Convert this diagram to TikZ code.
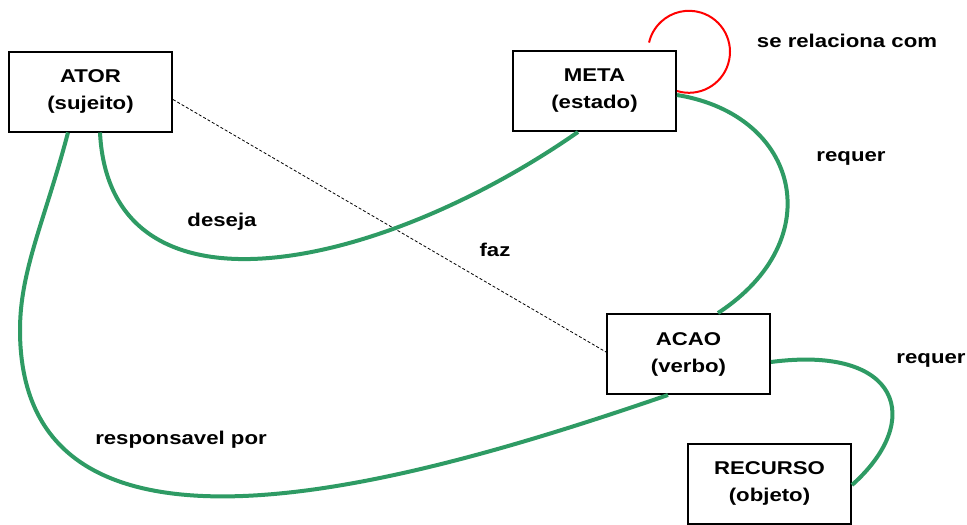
\documentclass[tikz,border=0pt]{standalone}
\usepackage{fontspec}
\setmainfont[FakeStretch=1.2]{Liberation Sans}
\usetikzlibrary{positioning}

\definecolor{relgreen}{RGB}{46,155,100}

\tikzset{
  box/.style={draw, line width=2pt, minimum width=163pt, minimum height=80pt,
    align=center, font=\bfseries\fontsize{18.5}{27}\selectfont},
  lbl/.style={font=\bfseries\fontsize{18.5}{22}\selectfont},
  rel/.style={relgreen, line width=4pt},
  selfrel/.style={red, line width=2pt},
  doeslink/.style={black, dashed, line width=0.8pt, dash pattern=on 3pt off 2pt}
}

\begin{document}
\begin{tikzpicture}[x=1pt,y=-1pt]
  % fix the page size
  \useasboundingbox (0,0) rectangle (967,525);

  % the four concepts
  \node[box] (ator) at (90.5,91.5) {ATOR\\(sujeito)};
  \node[box] (meta) at (594.5,91) {META\\(estado)};
  \node[box] (acao) at (688.5,354) {ACAO\\(verbo)};
  \node[box] (recurso) at (769.5,483.5) {RECURSO\\(objeto)};

  % dashed link from actor to action
  \draw[doeslink] ([yshift=-8pt]ator.east) -- ([yshift=2pt]acao.west);

  % green relations
  \draw[rel] ([xshift=9.5pt]ator.south) .. controls (110,330) and (380,270) .. ([xshift=-16.5pt]meta.south);
  \draw[rel] ([xshift=-22.5pt]ator.south) .. controls (45,220) and (20,270) .. (20,330)
    .. controls (20,600) and (420,480) .. ([xshift=-20.5pt]acao.south);
  \draw[rel] ([yshift=-4pt]meta.east) .. controls (800,115) and (830,240) .. ([xshift=29.5pt]acao.north);
  \draw[rel] ([yshift=-8pt]acao.east) .. controls (900,345) and (925,420) .. ([yshift=-1.5pt]recurso.east);

  % meta relates to itself
  \draw[selfrel] (meta.east) arc[start angle=107, end angle=-167, radius=41];

  % labels
  \node[lbl] (lblself) at (847,41) {se relaciona com};
  \node[lbl] (lblreqmeta) at (851,158) {requer};
  \node[lbl] (lbldeseja) at (222,222) {deseja};
  \node[lbl] (lblfaz) at (495,250) {faz};
  \node[lbl] (lblreqacao) at (931,360) {requer};
  \node[lbl] (lblresp) at (181,440) {responsavel por};
\end{tikzpicture}
\end{document}
